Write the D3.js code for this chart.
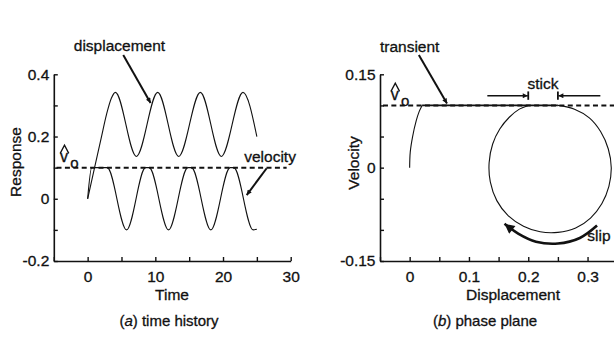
<!DOCTYPE html>
<html><head><meta charset="utf-8">
<script src="https://cdn.jsdelivr.net/npm/d3@7"></script>
<style>
body{margin:0;background:#fff}
svg{display:block}
text{font-family:"Liberation Sans",Arial,Helvetica,sans-serif;fill:#111;stroke:#111;stroke-width:0.3px}
</style>
</head><body>
<svg id="c" width="614" height="339"></svg>
<script>
// ---------- data ----------
const v0 = 0.1;
// (a) time history
const timeA = [0, 1.0, 2.0, 2.8, 3.5, 4.1, 7.2, 10.35, 13.45, 16.65, 19.75, 22.95, 25.0];
const displacementA = [0, 0.098, 0.195, 0.272, 0.323, 0.342, 0.136, 0.342, 0.136, 0.342, 0.136, 0.342, 0.2];
const velTimeA = [0, 0.6, 2.9, 5.75, 8.55, 9.1, 11.95, 14.8, 15.35, 18.2, 21.05, 21.6, 24.45, 25.0];
const velocityA = [0, 0.1, 0.1, -0.1, 0.1, 0.1, -0.1, 0.1, 0.1, -0.1, 0.1, 0.1, -0.1, -0.098];
const timeTicksA = [-5, 0, 5, 10, 15, 20, 25, 30];
const timeLabelValsA = [0, 10, 20, 30];
const timeLabelTextA = ["0", "10", "20", "30"];
const respTicksA = [-0.2, -0.1, 0, 0.1, 0.2, 0.3, 0.4];
const respLabelValsA = [-0.2, 0, 0.2, 0.4];
const respLabelTextA = ["-0.2", "0", "0.2", "0.4"];
// (b) phase plane
const transientXA = [0, 0.001, 0.005, 0.011, 0.016, 0.021];
const transientVA = [0, 0.025, 0.05, 0.075, 0.09, 0.1];
const loopXA = [0.250, 0.278, 0.303, 0.322, 0.335, 0.340, 0.336, 0.324, 0.305, 0.280, 0.250, 0.220, 0.192, 0.166, 0.147, 0.136, 0.134, 0.140, 0.152, 0.168, 0.185, 0.200];
const loopVA = [0.100, 0.094, 0.080, 0.058, 0.030, 0.000, -0.030, -0.058, -0.081, -0.097, -0.104, -0.103, -0.094, -0.077, -0.053, -0.023, 0.008, 0.038, 0.062, 0.081, 0.094, 0.100];
const dispTicksA = [-0.05, 0, 0.05, 0.1, 0.15, 0.2, 0.25, 0.3, 0.35];
const dispLabelValsA = [0, 0.1, 0.2, 0.3];
const dispLabelTextA = ["0", "0.1", "0.2", "0.3"];
const velTicksA = [-0.15, -0.1, -0.05, 0, 0.05, 0.1, 0.15];
const velLabelValsA = [-0.15, 0, 0.15];
const velLabelTextA = ["-0.15", "0", "0.15"];
const stickStartA = 0.2, stickEndA = 0.25;
const slipArrowXA = [0.316, 0.287, 0.250, 0.213, 0.183, 0.160];
const slipArrowVA = [-0.093, -0.113, -0.122, -0.119, -0.106, -0.090];

// ---------- drawing ----------
const svg = d3.select("#c");
const ink = "#111";
const defs = svg.append("defs");
function marker(id, w, h) {
  defs.append("marker").attr("id", id).attr("viewBox", "0 0 10 10")
    .attr("refX", 10).attr("refY", 5).attr("markerWidth", w).attr("markerHeight", h)
    .attr("markerUnits", "userSpaceOnUse").attr("orient", "auto")
    .append("path").attr("d", "M0,0 L10,5 L0,10 Z").attr("fill", ink);
}
marker("ah", 7, 5);
marker("ahStick", 11, 5);
marker("ahBig", 13, 10);

function fmt(vals, texts) {
  return d => { const i = vals.findIndex(v => Math.abs(v - d) < 1e-9); return i < 0 ? "" : texts[i]; };
}
function styleAxis(g, fs) {
  g.select(".domain").attr("stroke", ink).attr("stroke-width", 1.6);
  g.selectAll(".tick line").attr("stroke", ink).attr("stroke-width", 1.4);
  g.selectAll(".tick text").attr("font-size", fs).attr("fill", ink);
}
function vhat(g, px, py) {
  g.append("text").attr("x", px).attr("y", py).attr("font-size", 16).text("v");
  g.append("path").attr("d", `M${px+0.3},${py-8.4} L${px+4.6},${py-16.6} L${px+8.9},${py-8.4}`)
    .attr("fill", "none").attr("stroke", ink).attr("stroke-width", 1.3);
  g.append("text").attr("x", px + 10.3).attr("y", py + 6.5).attr("font-size", 15).text("o");
}

// ===== (a) time history =====
const xA = d3.scaleLinear().domain([-5, 30]).range([53.8, 290.7]);
const yA = d3.scaleLinear().domain([-0.2, 0.4]).range([261, 74.3]);
const gA = svg.append("g");

gA.append("g").attr("transform", `translate(0,${yA(-0.2)})`)
  .call(d3.axisBottom(xA).tickValues(timeTicksA).tickSizeInner(-4).tickSizeOuter(0).tickPadding(9.5)
    .tickFormat(fmt(timeLabelValsA, timeLabelTextA)))
  .call(g => styleAxis(g, 15.5));
gA.append("g").attr("transform", `translate(${xA(-5)},0)`)
  .call(d3.axisLeft(yA).tickValues(respTicksA).tickSizeInner(-4).tickSizeOuter(0).tickPadding(4.5)
    .tickFormat(fmt(respLabelValsA, respLabelTextA)))
  .call(g => styleAxis(g, 15.5));

gA.append("line").attr("x1", xA(-4.6)).attr("x2", xA(29.4)).attr("y1", yA(v0)).attr("y2", yA(v0))
  .attr("stroke", ink).attr("stroke-width", 2).attr("stroke-dasharray", "5,3.4");

const lineA = d3.line().x(d => xA(d[0])).y(d => yA(d[1])).curve(d3.curveMonotoneX);
gA.append("path").attr("d", lineA(timeA.map((t, i) => [t, displacementA[i]])))
  .attr("fill", "none").attr("stroke", ink).attr("stroke-width", 1.1);
gA.append("path").attr("d", lineA(velTimeA.map((t, i) => [t, velocityA[i]])))
  .attr("fill", "none").attr("stroke", ink).attr("stroke-width", 1.1);

gA.append("text").attr("x", xA(4.7)).attr("y", yA(0.476)).attr("text-anchor", "middle").attr("font-size", 15.5).text("displacement");
gA.append("line").attr("x1", xA(5.26)).attr("y1", yA(0.462)).attr("x2", xA(9.3)).attr("y2", yA(0.308))
  .attr("stroke", ink).attr("stroke-width", 2).attr("marker-end", "url(#ah)");
gA.append("text").attr("x", xA(26.95)).attr("y", yA(0.118)).attr("text-anchor", "middle").attr("font-size", 15.5).text("velocity");
gA.append("line").attr("x1", xA(26.45)).attr("y1", yA(0.098)).attr("x2", xA(23.5)).attr("y2", yA(0.012))
  .attr("stroke", ink).attr("stroke-width", 2).attr("marker-end", "url(#ah)");
vhat(gA, xA(-4.1), yA(0.119));

gA.append("text").attr("x", 172).attr("y", 300).attr("text-anchor", "middle").attr("font-size", 15.5).text("Time");
gA.append("text").attr("transform", "translate(21,162) rotate(-90)").attr("text-anchor", "middle").attr("font-size", 15.5).text("Response");
const capA = gA.append("text").attr("x", 169).attr("y", 326).attr("text-anchor", "middle").attr("font-size", 15);
capA.append("tspan").text("(");
capA.append("tspan").attr("font-style", "italic").text("a");
capA.append("tspan").text(") time history");

// ===== (b) phase plane =====
const xB = d3.scaleLinear().domain([-0.05, 0.35]).range([380, 617.2]);
const yB = d3.scaleLinear().domain([-0.15, 0.15]).range([261, 74.3]);
const gB = svg.append("g");

gB.append("g").attr("transform", `translate(0,${yB(-0.15)})`)
  .call(d3.axisBottom(xB).tickValues(dispTicksA).tickSizeInner(-4).tickSizeOuter(0).tickPadding(9.5)
    .tickFormat(fmt(dispLabelValsA, dispLabelTextA)))
  .call(g => styleAxis(g, 15.5));
gB.append("g").attr("transform", `translate(${xB(-0.05)},0)`)
  .call(d3.axisLeft(yB).tickValues(velTicksA).tickSizeInner(-4).tickSizeOuter(0).tickPadding(4.5)
    .tickFormat(fmt(velLabelValsA, velLabelTextA)))
  .call(g => styleAxis(g, 15.5));

gB.append("line").attr("x1", xB(-0.045)).attr("x2", xB(0.36)).attr("y1", yB(v0)).attr("y2", yB(v0))
  .attr("stroke", ink).attr("stroke-width", 2).attr("stroke-dasharray", "5,3.4");

const lineB = d3.line().x(d => xB(d[0])).y(d => yB(d[1]));
const transPts = transientXA.map((x, i) => [x, transientVA[i]]);
const loopPts = loopXA.map((x, i) => [x, loopVA[i]]);
gB.append("path").attr("d", lineB.curve(d3.curveCatmullRom.alpha(0.5))(transPts))
  .attr("fill", "none").attr("stroke", ink).attr("stroke-width", 1.1);
gB.append("path").attr("d", d3.line().x(d => xB(d[0])).y(d => yB(d[1]))([transPts[transPts.length - 1], loopPts[0]]))
  .attr("fill", "none").attr("stroke", ink).attr("stroke-width", 1.6);
gB.append("path").attr("d", d3.line().x(d => xB(d[0])).y(d => yB(d[1])).curve(d3.curveCatmullRom.alpha(0.5))(loopPts))
  .attr("fill", "none").attr("stroke", ink).attr("stroke-width", 1.1);

// annotations
gB.append("text").attr("x", xB(0.0)).attr("y", yB(0.186)).attr("text-anchor", "middle").attr("font-size", 15.5).text("transient");
gB.append("line").attr("x1", xB(0.0155)).attr("y1", yB(0.181)).attr("x2", xB(0.063)).attr("y2", yB(0.103))
  .attr("stroke", ink).attr("stroke-width", 2).attr("marker-end", "url(#ah)");
gB.append("text").attr("x", xB((stickStartA + stickEndA) / 2)).attr("y", yB(0.127)).attr("text-anchor", "middle").attr("font-size", 15.5).text("stick");
const vArr = 0.1155;
gB.append("line").attr("x1", xB(0.131)).attr("y1", yB(vArr)).attr("x2", xB(stickStartA) - 0.5).attr("y2", yB(vArr))
  .attr("stroke", ink).attr("stroke-width", 1.6).attr("marker-end", "url(#ahStick)");
gB.append("line").attr("x1", xB(0.3216)).attr("y1", yB(vArr)).attr("x2", xB(stickEndA) + 0.5).attr("y2", yB(vArr))
  .attr("stroke", ink).attr("stroke-width", 1.6).attr("marker-end", "url(#ahStick)");
[stickStartA, stickEndA].forEach(s => {
  gB.append("line").attr("x1", xB(s)).attr("x2", xB(s)).attr("y1", yB(0.1225)).attr("y2", yB(0.109))
    .attr("stroke", ink).attr("stroke-width", 1.8);
});
gB.append("path").attr("d", d3.line().x(d => xB(d[0])).y(d => yB(d[1])).curve(d3.curveCatmullRom.alpha(0.5))(slipArrowXA.map((x, i) => [x, slipArrowVA[i]])))
  .attr("fill", "none").attr("stroke", ink).attr("stroke-width", 2.6).attr("marker-end", "url(#ahBig)");
gB.append("text").attr("x", xB(0.2996)).attr("y", yB(-0.118)).attr("font-size", 15.5).text("slip");
vhat(gB, xB(-0.032), yB(0.109));

gB.append("text").attr("x", 513).attr("y", 300).attr("text-anchor", "middle").attr("font-size", 15.5).text("Displacement");
gB.append("text").attr("transform", "translate(358.5,163) rotate(-90)").attr("text-anchor", "middle").attr("font-size", 15.5).text("Velocity");
const capB = gB.append("text").attr("x", 485).attr("y", 326).attr("text-anchor", "middle").attr("font-size", 15);
capB.append("tspan").text("(");
capB.append("tspan").attr("font-style", "italic").text("b");
capB.append("tspan").text(") phase plane");
</script>
</body></html>
